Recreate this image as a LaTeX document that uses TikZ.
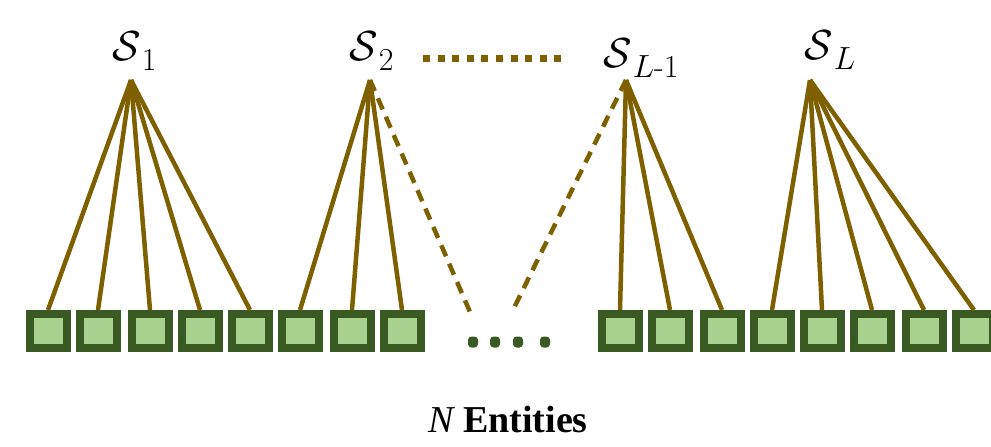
\RequirePackage{fix-cm}
\documentclass[tikz,border=0pt]{standalone}
\usepackage{fontspec}
\newfontfamily\timesfont{Liberation Serif}
\definecolor{linkbrown}{HTML}{7F6000}
\definecolor{boxdark}{HTML}{3A5A24}
\definecolor{boxlight}{HTML}{A9D18E}
\newcommand{\setname}[1]{$\mathcal{S}$\kern1pt\raisebox{-10pt}{\fontsize{32}{38}\selectfont #1}}
\tikzset{
  entity/.style={draw=boxdark, fill=boxlight, line width=8pt, minimum width=37pt, minimum height=34pt, inner sep=0pt},
  link/.style={draw=linkbrown, line width=4.5pt},
  linkdash/.style={link, dash pattern=on 12pt off 8pt},
  setlabel/.style={font=\fontsize{42}{50}\selectfont, inner sep=0pt, anchor=base west},
  gap/.style={rounded corners=3.5pt, fill=boxdark, minimum width=10pt, minimum height=11pt, inner sep=0pt}
}
\begin{document}
\begin{tikzpicture}[x=1pt,y=-1pt]
    \useasboundingbox (0,0) rectangle (991,447);

    % Entities, left block and right block
    \foreach \x [count=\i] in {48,98,150,200,250,300,352,402} {
      \node[entity] (e\i) at (\x,331) {};
    }
    \foreach \x [count=\i] in {620,670,722,772,822,872,924,974} {
      \node[entity] (r\i) at (\x,331) {};
    }

    % Omitted entities
    \foreach \x [count=\i] in {473,495,518,545} {
      \node[gap] (g\i) at (\x,342) {};
    }

    % Set labels and their apex points
    \node[setlabel] (s1) at (112,60) {\setname{1}};
    \node[setlabel] (s2) at (349,60) {\setname{2}};
    \node[setlabel] (s3) at (603,67) {\setname{$L$-1}};
    \node[setlabel] (s4) at (804,59) {\setname{$L$}};
    \coordinate (t1) at (131,80);
    \coordinate (t2) at (370,80);
    \coordinate (t3) at (626,80);
    \coordinate (t4) at (810,80);

    % Omitted sets
    \coordinate (d1) at (423,58);
    \coordinate (d2) at (565,58);
    \draw[linkbrown, line width=7pt, dash pattern=on 7pt off 7.6pt] (d1) -- (d2);

    % Set memberships
    \foreach \k in {1,...,5} {
      \draw[link] (t1) -- (e\k.north);
    }
    \foreach \k in {6,7,8} {
      \draw[link] (t2) -- (e\k.north);
    }
    \foreach \k in {1,2,3} {
      \draw[link] (t3) -- (r\k.north);
    }
    \foreach \k in {4,...,8} {
      \draw[link] (t4) -- (r\k.north);
    }
    \coordinate (h1) at (470,312);
    \coordinate (h2) at (512,312);
    \draw[linkdash] (t2) -- (h1);
    \draw[linkdash] (t3) -- (h2);

    \node[font=\timesfont\bfseries\fontsize{38}{46}\selectfont] (caption) at (508,419) {{\mdseries\itshape N} Entities};
\end{tikzpicture}
\end{document}
